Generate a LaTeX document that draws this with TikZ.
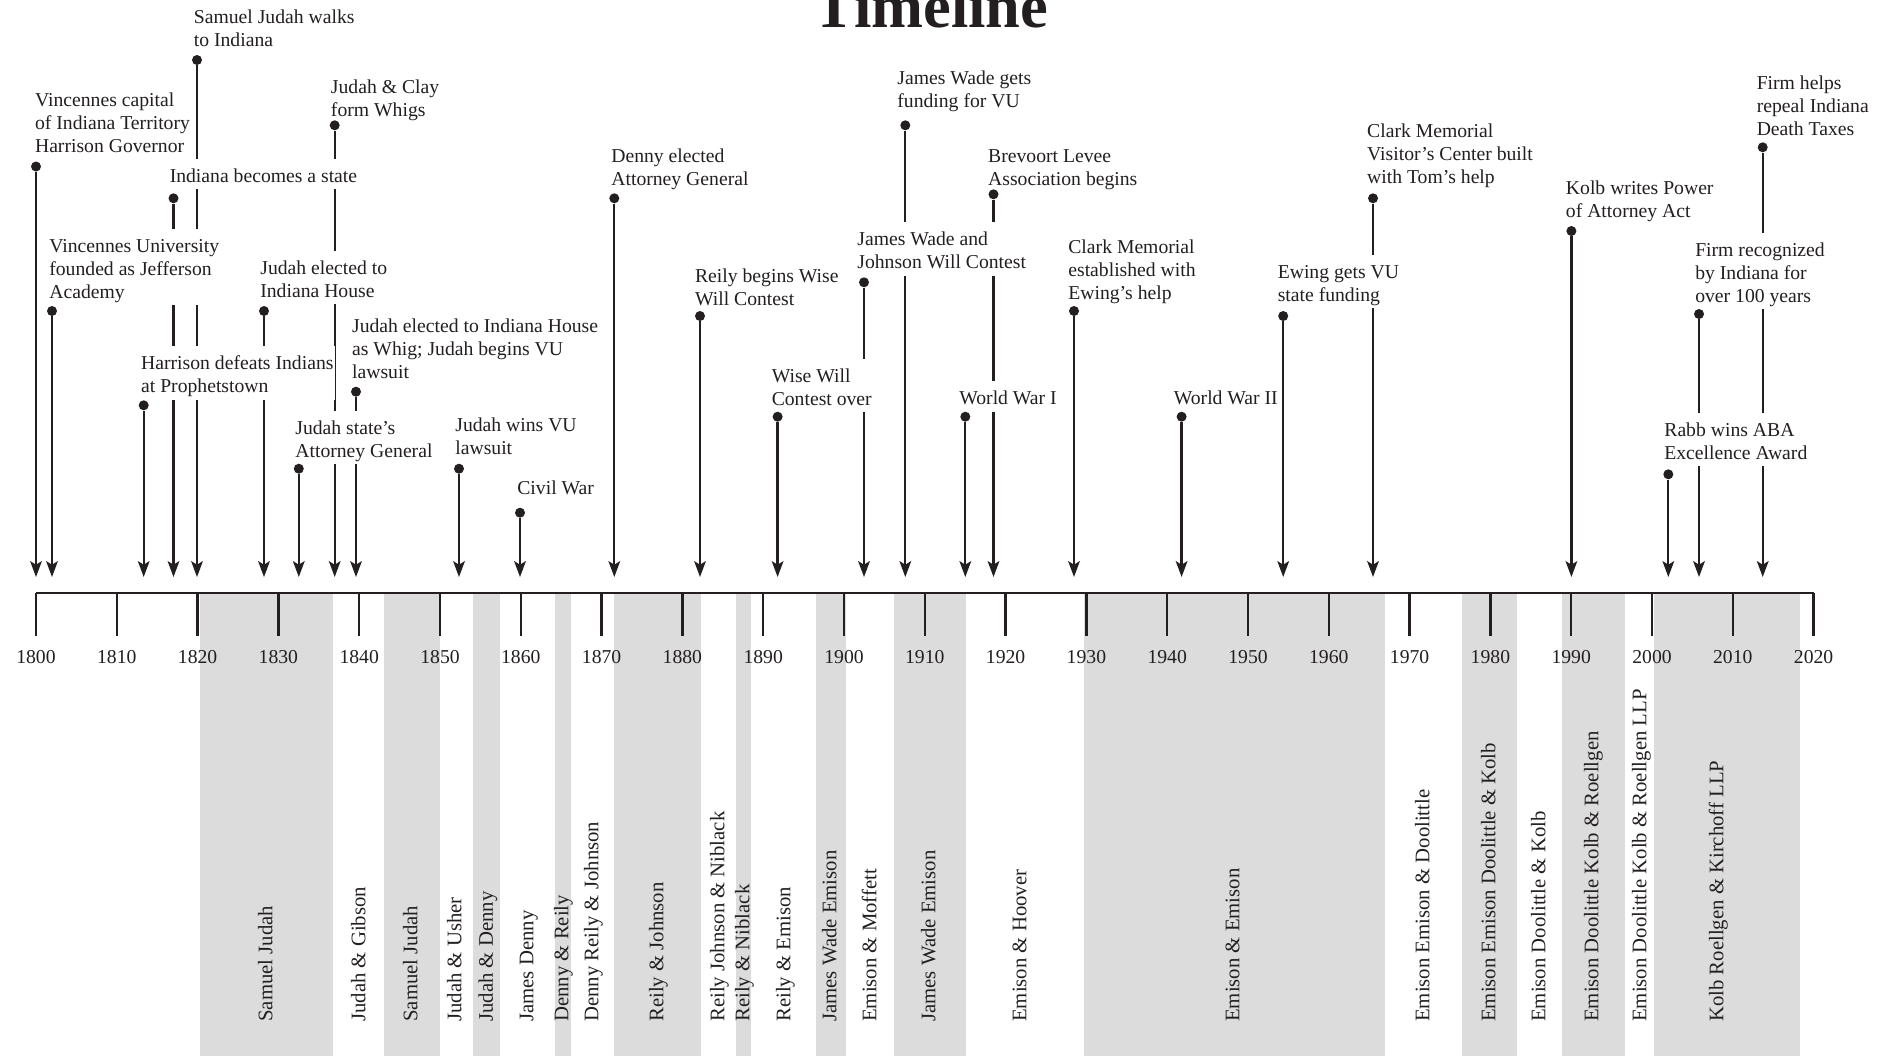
\documentclass[tikz,border=0pt]{standalone}
\usepackage{fontspec}
\setmainfont{Liberation Serif}
\usetikzlibrary{arrows.meta}
\definecolor{ink}{RGB}{35,31,32}
\definecolor{band}{RGB}{220,220,220}
\pgfdeclarelayer{back}
\pgfdeclarelayer{lines}
\pgfdeclarelayer{front}
\pgfsetlayers{back,lines,main,front}
\newcommand\lblfont{\fontsize{11.2pt}{13.09pt}\selectfont}
\newcommand\firmfont{\fontsize{11.8pt}{14pt}\selectfont}
\tikzset{
  evdot/.style={circle, fill=ink, inner sep=0pt, minimum size=0.2cm},
  evline/.style={draw=ink, line width=1.3pt, -{Stealth[length=9pt, width=6.6pt, inset=2pt]}},
  lbl/.style={fill=white, inner xsep=0.04cm, inner ysep=0pt, text=ink, font=\lblfont, anchor=base west},
  yearlbl/.style={text=ink, font=\lblfont, inner sep=0pt},
  firm/.style={rotate=90, anchor=west, text=ink, font=\firmfont, inner sep=0pt, text height=8pt, text depth=2pt},
  axisline/.style={draw=ink, line width=1.5pt},
  tickline/.style={draw=ink, line width=1.3pt},
  bandfill/.style={fill=band, draw=none},
}
% id, dot x, dot y
\newcommand\evt[3]{%
  \begin{pgfonlayer}{front}\node[evdot] (d#1) at (#2,#3) {};\end{pgfonlayer}
  \coordinate (a#1) at (#2,577);
  \begin{pgfonlayer}{lines}\draw[evline] (d#1) -- (a#1);\end{pgfonlayer}}
% id, left x, first-line centre y, text
\newcommand\evlabel[4]{%
  \node[lbl] (l#1) at ({#2-2},{#3+6.5}) {\begin{tabular}[t]{@{}l@{}}\rule{0pt}{13.4pt}#4\end{tabular}};}
\begin{document}
\begin{tikzpicture}[x=0.02cm, y=-0.02cm]
\clip (0,0) rectangle (1892,1056);
% title
\node[anchor=base, text=ink, inner sep=0pt, font=\fontsize{35.5pt}{40pt}\selectfont\bfseries] (title) at (931,27) {Timeline};
% bands
\begin{pgfonlayer}{back}
\fill[white] (0,0) rectangle (1892,1056);
\fill[bandfill] (200,593) rectangle (332.5,1056);
\fill[bandfill] (384,593) rectangle (439.7,1056);
\fill[bandfill] (473.4,593) rectangle (499.7,1056);
\fill[bandfill] (555.4,593) rectangle (570.7,1056);
\fill[bandfill] (614.2,593) rectangle (701.2,1056);
\fill[bandfill] (736,593) rectangle (751.4,1056);
\fill[bandfill] (816.3,593) rectangle (846.3,1056);
\fill[bandfill] (894,593) rectangle (965.6,1056);
\fill[bandfill] (1084,593) rectangle (1385,1056);
\fill[bandfill] (1462,593) rectangle (1517,1056);
\fill[bandfill] (1562,593) rectangle (1625,1056);
\fill[bandfill] (1654,593) rectangle (1800,1056);
\end{pgfonlayer}
% axis
\coordinate (axL) at (36,593);
\coordinate (axR) at (1814,593);
\draw[axisline] (axL) -- (axR);
\foreach \yr in {1800,1810,...,2020}{
  \pgfmathsetmacro\xx{36+8.08*(\yr-1800)}
  \coordinate (t\yr) at (\xx,593);
  \coordinate (tb\yr) at (\xx,636);
  \draw[tickline] (t\yr) -- (tb\yr);
  \node[yearlbl] (yr\yr) at (\xx,657) {\yr};
}
% firm names
\node[firm] (f1) at (267,1022) {Samuel Judah};
\node[firm] (f2) at (360,1022) {Judah \& Gibson};
\node[firm] (f3) at (412,1022) {Samuel Judah};
\node[firm] (f4) at (456,1022) {Judah \& Usher};
\node[firm] (f5) at (487.5,1022) {Judah \& Denny};
\node[firm] (f6) at (528,1022) {James Denny};
\node[firm] (f7) at (563,1022) {Denny \& Reily};
\node[firm] (f8) at (593,1022) {Denny Reily \& Johnson};
\node[firm] (f9) at (658,1022) {Reily \& Johnson};
\node[firm] (f10) at (719,1022) {Reily Johnson \& Niblack};
\node[firm] (f11) at (744,1022) {Reily \& Niblack};
\node[firm] (f12) at (785,1022) {Reily \& Emison};
\node[firm] (f13) at (831,1022) {James Wade Emison};
\node[firm] (f14) at (871,1022) {Emison \& Moffett};
\node[firm] (f15) at (930,1022) {James Wade Emison};
\node[firm] (f16) at (1021,1022) {Emison \& Hoover};
\node[firm] (f17) at (1234,1022) {Emison \& Emison};
\node[firm] (f18) at (1424,1022) {Emison Emison \& Doolittle};
\node[firm] (f19) at (1490,1022) {Emison Emison Doolittle \& Kolb};
\node[firm] (f20) at (1540,1022) {Emison Doolittle \& Kolb};
\node[firm] (f21) at (1593,1022) {Emison Doolittle Kolb \& Roellgen};
\node[firm] (f22) at (1641,1022) {Emison Doolittle Kolb \& Roellgen LLP};
\node[firm] (f23) at (1718,1022) {Kolb Roellgen \& Kirchoff LLP};
% events: dots and arrows
\evt{1}{36}{166.5}
\evt{2}{52}{311}
\evt{3}{197}{60}
\evt{4}{173.5}{198.3}
\evt{5}{334.7}{125.3}
\evt{6}{264}{311}
\evt{7}{356}{391.7}
\evt{8}{143.7}{405.3}
\evt{9}{298.8}{468.7}
\evt{10}{459}{468.7}
\evt{11}{520}{512.7}
\evt{12}{614.3}{198.3}
\evt{13}{700}{316}
\evt{14}{905.3}{125.3}
\evt{15}{993.5}{194.3}
\evt{16}{864}{282.3}
\evt{17}{1074}{311}
\evt{18}{777.6}{416.7}
\evt{19}{965.3}{416.7}
\evt{20}{1181.6}{416.7}
\evt{21}{1283.2}{316}
\evt{22}{1373}{198.3}
\evt{23}{1571.4}{231}
\evt{24}{1762.7}{147.3}
\evt{25}{1699}{314}
\evt{26}{1668.3}{474.3}
% labels
\evlabel{1}{34.7}{100}{Vincennes capital\\of Indiana Territory\\Harrison Governor}
\evlabel{2}{49}{245.7}{Vincennes University\\founded as Jefferson\\Academy}
\evlabel{3}{193.5}{17.3}{Samuel Judah walks\\to Indiana}
\evlabel{4}{169.4}{175.7}{Indiana becomes a state}
\evlabel{5}{330.6}{86.7}{Judah \& Clay\\form Whigs}
\evlabel{6}{260}{267.7}{Judah elected to\\Indiana House}
\evlabel{7}{351.8}{325.7}{Judah elected to Indiana House\\as Whig; Judah begins VU\\lawsuit}
\evlabel{8}{140.8}{363.3}{Harrison defeats Indians\\at Prophetstown}
\evlabel{9}{295}{427.7}{Judah state’s\\Attorney General}
\evlabel{10}{455}{425.3}{Judah wins VU\\lawsuit}
\evlabel{11}{517}{488.3}{Civil War}
\evlabel{12}{611}{155.7}{Denny elected\\Attorney General}
\evlabel{13}{694.7}{275.7}{Reily begins Wise\\Will Contest}
\evlabel{14}{897}{77.7}{James Wade gets\\funding for VU}
\evlabel{15}{987.8}{155.7}{Brevoort Levee\\Association begins}
\evlabel{16}{857}{239.3}{James Wade and\\Johnson Will Contest}
\evlabel{17}{1068}{246.7}{Clark Memorial\\established with\\Ewing’s help}
\evlabel{18}{771.4}{376}{Wise Will\\Contest over}
\evlabel{19}{959}{398.3}{World War I}
\evlabel{20}{1173.5}{398.3}{World War II}
\evlabel{21}{1277.4}{271.7}{Ewing gets VU\\state funding}
\evlabel{22}{1366.8}{130.7}{Clark Memorial\\Visitor’s Center built\\with Tom’s help}
\evlabel{23}{1565.6}{187.7}{Kolb writes Power\\of Attorney Act}
\evlabel{24}{1756.4}{83.3}{Firm helps\\repeal Indiana\\Death Taxes}
\evlabel{25}{1694.9}{250}{Firm recognized\\by Indiana for\\over 100 years}
\evlabel{26}{1664}{430}{Rabb wins ABA\\Excellence Award}
\end{tikzpicture}
\end{document}
